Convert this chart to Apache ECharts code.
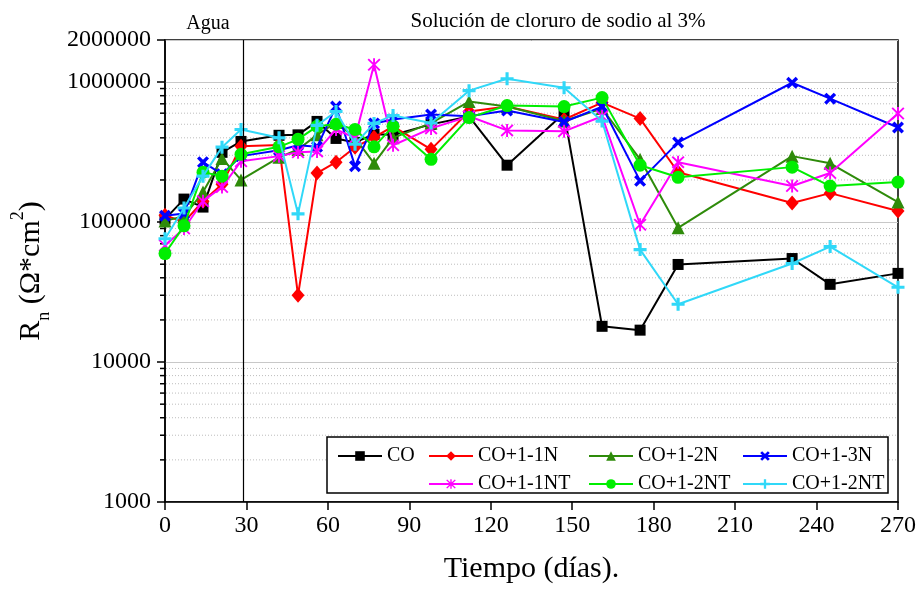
<!DOCTYPE html>
<html>
<head>
<meta charset="utf-8">
<script src="https://cdn.jsdelivr.net/npm/echarts@6/dist/echarts.min.js"></script>
<style>html,body{margin:0;padding:0;background:#fff}#c{width:919px;height:589px}</style>
</head>
<body>
<div id="c"></div>
<script>
// ---- data ----
const days = [0, 7, 14, 21, 28, 42, 49, 56, 63, 70, 77, 84, 98, 112, 126, 147, 161, 175, 189, 231, 245, 270];
const xTicks = [0, 30, 60, 90, 120, 150, 180, 210, 240, 270];
const yMajorTicks = [1000, 10000, 100000, 1000000, 2000000];
const minorTicks = [2000,3000,4000,5000,6000,7000,8000,9000,20000,30000,40000,50000,60000,70000,80000,90000,200000,300000,400000,500000,600000,700000,800000,900000];
const dividerDay = 29;

const CO     = [105000,146000,128000,315000,377000,417000,420000,524000,396000,371000,424000,420000,499000,569000,255000,600000,18000,16900,49800,54900,35900,43000];
const CO_11N = [112000,100000,141000,186000,348000,356000,30000,224000,268000,343000,403000,483000,331000,617000,669000,541000,714000,549000,227000,137000,161000,120000];
const CO_12N = [102000,110000,164000,285000,200000,290000,330000,420000,515000,400000,263000,400000,510000,726000,670000,527000,648000,281000,91000,296000,263000,139000];
const CO_13N = [111000,115000,268000,220000,296000,326000,354000,345000,669000,251000,507000,541000,587000,570000,627000,519000,669000,197000,371000,990000,762000,474000];
const CO_11NT = [68000,90000,141000,178000,272000,296000,315000,320000,459000,400000,1330000,354000,467000,570000,452000,445000,570000,95700,268000,181000,224000,597000];
const CO_12NT = [59600,94000,227000,213000,305000,345000,390000,483000,500000,459000,345000,483000,281000,558000,680000,669000,775000,255000,209000,247000,181000,193000];
const CO_12NTb = [76000,126000,213000,343000,459000,400000,114500,491000,617000,360000,507000,578000,510000,869000,1057000,912000,527000,63600,25900,50600,66800,34200];

const names = ['CO', 'CO+1-1N', 'CO+1-2N', 'CO+1-3N', 'CO+1-1NT', 'CO+1-2NT', 'CO+1-2NT\u200B'];
const values = [CO, CO_11N, CO_12N, CO_13N, CO_11NT, CO_12NT, CO_12NTb];

// ---- styling ----
const FONT = 'Liberation Serif';
const colors = ['#000000', '#ff0000', '#2e8b0a', '#0000ff', '#ff00ff', '#00ee00', '#30d8f8'];
const X_PATH = 'path://M2,0 L5,3 L8,0 L10,2 L7,5 L10,8 L8,10 L5,7 L2,10 L0,8 L3,5 L0,2 Z';
const PLUS_PATH = 'path://M3.8,0 H6.2 V3.8 H10 V6.2 H6.2 V10 H3.8 V6.2 H0 V3.8 H3.8 Z';
const STAR_PATH = 'path://M4.3,0 H5.7 V10 H4.3 Z M1.2,0.2 L5,4 L8.8,0.2 L9.8,1.2 L6,5 L9.8,8.8 L8.8,9.8 L5,6 L1.2,9.8 L0.2,8.8 L4,5 L0.2,1.2 Z';
const symbols = ['rect', 'diamond', 'triangle', X_PATH, STAR_PATH, 'circle', PLUS_PATH];
const sizes = [11, [13, 15], 13, 12, 13, 13, 13];

const series = names.map((n, i) => ({
  name: n,
  type: 'line',
  data: days.map((d, k) => [d, values[i][k]]),
  symbol: symbols[i],
  symbolSize: sizes[i],
  showSymbol: true,
  lineStyle: { color: colors[i], width: 2 },
  itemStyle: { color: colors[i] },
  z: 2 + i * 0.01,
  animation: false
}));

// vertical divider
series[0].markLine = {
  silent: true, symbol: 'none', label: { show: false }, animation: false,
  lineStyle: { color: '#000', width: 1.2, type: 'solid' },
  data: [{ xAxis: dividerDay }]
};

// minor ticks + dotted minor grid
series.unshift({
  type: 'custom',
  name: 'minor',
  silent: true,
  clip: false,
  z: 1,
  animation: false,
  data: minorTicks.map(v => [0, v]),
  encode: { x: 0, y: 1 },
  renderItem: function (params, api) {
    const y = api.coord([0, api.value(1)])[1];
    const x0 = params.coordSys.x;
    const x1 = x0 + params.coordSys.width;
    return {
      type: 'group',
      children: [
        { type: 'line', shape: { x1: x0 + 1, y1: y, x2: x1 - 1, y2: y }, style: { stroke: '#bdbdbd', lineWidth: 1, lineDash: [1, 2] } },
        { type: 'line', shape: { x1: x0 - 5, y1: y, x2: x0, y2: y }, style: { stroke: '#000', lineWidth: 1.5 } }
      ]
    };
  }
});

const legendBase = {
  orient: 'vertical', itemWidth: 44, itemHeight: 12, itemGap: 8, z: 6,
  textStyle: { fontFamily: FONT, fontSize: 20, color: '#000' },
  top: 446, selectedMode: false, padding: 0
};

const chart = echarts.init(document.getElementById('c'), null, { renderer: 'canvas' });
chart.setOption({
  backgroundColor: '#fff',
  animation: false,
  title: [
    { text: 'Agua', left: 203, top: 9, textAlign: 'center', textStyle: { fontFamily: FONT, fontSize: 20, fontWeight: 'normal', color: '#000' } },
    { text: 'Solución de cloruro de sodio al 3%', left: 553, top: 6, textAlign: 'center', textStyle: { fontFamily: FONT, fontSize: 21, fontWeight: 'normal', color: '#000' } }
  ],
  grid: { left: 165, right: 21, top: 40, bottom: 84, show: true, borderColor: '#000', borderWidth: 1.5, backgroundColor: 'transparent' },
  legend: [
    Object.assign({}, legendBase, { left: 337, data: [names[0]] }),
    Object.assign({}, legendBase, { left: 428, data: [names[1], names[4]] }),
    Object.assign({}, legendBase, { left: 588, data: [names[2], names[5]] }),
    Object.assign({}, legendBase, { left: 742, data: [names[3], names[6]], formatter: n => n.replace('\u200B', '') })
  ],
  graphic: [
    { type: 'rect', z: 5, shape: { x: 327, y: 437, width: 561, height: 56 }, style: { fill: '#fff', stroke: '#000', lineWidth: 1.5 } }
  ],
  xAxis: {
    type: 'value', min: 0, max: 270, interval: 30,
    name: 'Tiempo (días).', nameLocation: 'middle', nameGap: 52,
    nameTextStyle: { fontFamily: FONT, fontSize: 30, color: '#000' },
    axisLine: { show: true, lineStyle: { color: '#000', width: 1.5 } },
    axisTick: { show: true, length: 8, lineStyle: { color: '#000', width: 1.5 } },
    axisLabel: { fontFamily: FONT, fontSize: 24, color: '#000', margin: 12, formatter: v => xTicks.includes(v) ? String(v) : '' },
    splitLine: { show: false }
  },
  yAxis: {
    type: 'log', logBase: 10, min: yMajorTicks[0], max: yMajorTicks[yMajorTicks.length - 1],
    name: '{a|R}{sub|n}{a| (Ω*cm}{sup|2}{a|)}', nameLocation: 'middle', nameGap: 112, nameRotate: 90,
    nameTextStyle: {
      fontFamily: FONT, color: '#000',
      rich: {
        a: { fontFamily: FONT, fontSize: 30, color: '#000', lineHeight: 44, verticalAlign: 'middle' },
        sub: { fontFamily: FONT, fontSize: 18, color: '#000', lineHeight: 44, verticalAlign: 'bottom', padding: [0, 0, 0, 0] },
        sup: { fontFamily: FONT, fontSize: 18, color: '#000', lineHeight: 44, verticalAlign: 'top' }
      }
    },
    axisLine: { show: true, lineStyle: { color: '#000', width: 1.5 } },
    axisTick: { show: true, length: 8, lineStyle: { color: '#000', width: 1.5 } },
    axisLabel: { fontFamily: FONT, fontSize: 24, color: '#000', margin: 14, formatter: v => String(Math.round(v)) },
    splitLine: { show: true, lineStyle: { color: '#c8c8c8', width: 1 } }
  },
  series: series
});
</script>
</body>
</html>
